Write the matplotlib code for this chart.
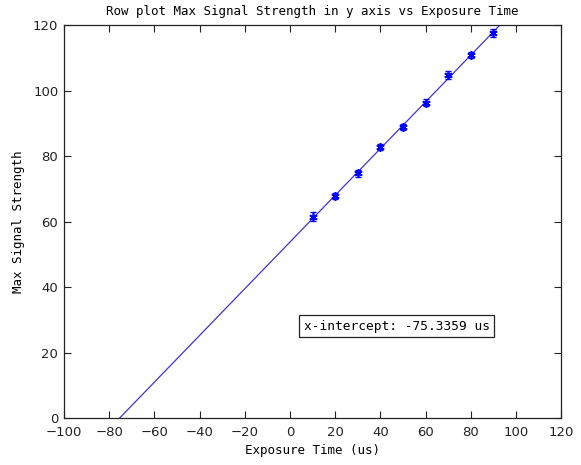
import numpy as np
import matplotlib
matplotlib.use("Agg")
import matplotlib.pyplot as plt

# exposure times (us) and measured max signal strength with std errors
exposure = [10, 20, 30, 40, 50, 60, 70, 80, 90]
max_signal = [61.5, 67.8, 74.7, 82.8, 89.0, 96.3, 104.7, 110.8, 117.6]
signal_err = [1.3, 0.9, 1.1, 1.0, 0.9, 1.0, 1.3, 0.9, 1.1]

# linear fit result
x_intercept = -75.3359
fit_slope = 0.7135

plt.rcParams["font.family"] = "DejaVu Sans"
plt.rcParams["font.size"] = 9
mono = "DejaVu Sans Mono"

fig = plt.figure(figsize=(5.81, 4.65), dpi=100)
ax = fig.add_axes([0.110, 0.101, 0.856, 0.845])

xs = np.array([-100, 120])
ax.plot(xs, fit_slope * (xs - x_intercept), color=(0.25, 0.2, 0.85), lw=0.9)
ax.errorbar(exposure, max_signal, yerr=signal_err, fmt="none",
            ecolor="blue", elinewidth=1.0, capsize=2.5, capthick=1.0)
ax.plot(exposure, max_signal, linestyle="none", marker=(6, 2, 0),
        markersize=6, color="blue", mew=1.2)

ax.set_xlim(-100, 120)
ax.set_ylim(0, 120)
ax.set_xticks(np.arange(-100, 121, 20))
ax.set_yticks(np.arange(0, 121, 20))
ax.tick_params(direction="in", top=True, right=True, length=5, width=0.8,
               labelsize=9.5, colors="#222222")
ax.tick_params(axis="x", pad=6)
ax.tick_params(axis="y", pad=4)
for sp in ax.spines.values():
    sp.set_linewidth(0.9)
    sp.set_color("#222222")

ax.set_title("Row plot Max Signal Strength in y axis vs Exposure Time",
             fontsize=9, family=mono, pad=7)
ax.set_xlabel("Exposure Time (us)", fontsize=9, family=mono, labelpad=3)
ax.set_ylabel("Max Signal Strength", fontsize=9, family=mono, labelpad=6)

ax.text(6.0, 28.0, "x-intercept: %.4f us" % x_intercept, fontsize=9.3,
        family=mono, va="center", ha="left",
        bbox=dict(boxstyle="square,pad=0.35", fc="white", ec="#222222", lw=0.9))

fig.savefig("out.png", dpi=100)
